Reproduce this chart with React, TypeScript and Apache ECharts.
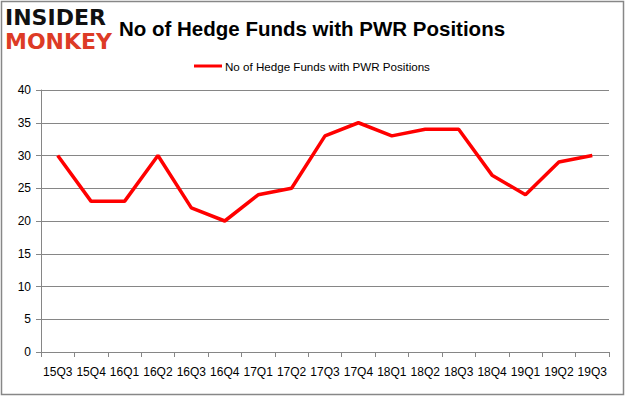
import React, { useEffect, useRef } from "react";
import * as echarts from "echarts";

const categories = ["15Q3", "15Q4", "16Q1", "16Q2", "16Q3", "16Q4", "17Q1", "17Q2", "17Q3", "17Q4", "18Q1", "18Q2", "18Q3", "18Q4", "19Q1", "19Q2", "19Q3"];
const hedgeFunds = [30, 23, 23, 30, 22, 20, 24, 25, 33, 35, 33, 34, 34, 27, 24, 29, 30];
const seriesName = "No of Hedge Funds with PWR Positions";
const titleText = "No of Hedge Funds with PWR Positions";

export default function App() {
  const ref = useRef<HTMLDivElement>(null);
  useEffect(() => {
    if (!ref.current) return;
    const chart = echarts.init(ref.current, null, { renderer: "svg" });
    const font = '"Liberation Sans", Arial, sans-serif';
    chart.setOption({
      animation: false,
      backgroundColor: "#ffffff",
      textStyle: { fontFamily: font },
      title: {
        text: titleText,
        left: 114,
        top: 13,
        textStyle: { fontSize: 20.5, fontWeight: "bold", color: "#000", fontFamily: font },
      },
      legend: {
        data: [seriesName],
        top: 55,
        left: 189,
        itemWidth: 28,
        itemHeight: 3,
        itemGap: 4,
        icon: "rect",
        textStyle: { fontSize: 11.6, color: "#000", fontFamily: font, padding: [0, 0, 0, -2] },
      },
      grid: { left: 41, right: 17, top: 90, bottom: 45, containLabel: false },
      xAxis: {
        type: "category",
        data: categories,
        boundaryGap: true,
        axisLine: { lineStyle: { color: "#868686", width: 1 } },
        axisTick: { show: true, length: 5, alignWithLabel: false, lineStyle: { color: "#868686" } },
        axisLabel: { color: "#000", fontSize: 12, margin: 14, interval: 0, fontFamily: font },
      },
      yAxis: {
        type: "value",
        min: 0,
        max: 40,
        interval: 5,
        axisLine: { show: true, lineStyle: { color: "#868686", width: 1 } },
        axisTick: { show: true, length: 5, lineStyle: { color: "#868686" } },
        axisLabel: { color: "#000", fontSize: 12, margin: 10, fontFamily: font },
        splitLine: { show: true, lineStyle: { color: "#868686", width: 1 } },
      },
      series: [
        {
          name: seriesName,
          type: "line",
          data: hedgeFunds,
          symbol: "none",
          lineStyle: { color: "#ff0000", width: 3.5 },
          itemStyle: { color: "#ff0000" },
        },
      ],
      graphic: [
        {
          type: "rect",
          shape: { x: 1.5, y: 1.5, width: 622, height: 393 },
          style: { fill: "none", stroke: "#878787", lineWidth: 1.5 },
          silent: true,
        },
        {
          type: "text",
          left: 5,
          top: 6,
          style: { text: "INSIDER", fill: "#111111", font: '900 22px "DejaVu Sans", sans-serif' },
        },
        {
          type: "text",
          left: 5,
          top: 30,
          style: { text: "MONKEY", fill: "#dd3b26", font: '900 22px "DejaVu Sans", sans-serif' },
        },
      ],
    });
    return () => chart.dispose();
  }, []);
  return <div ref={ref} style={{ position: "fixed", left: 0, top: 0, width: 626, height: 397 }} />;
}
